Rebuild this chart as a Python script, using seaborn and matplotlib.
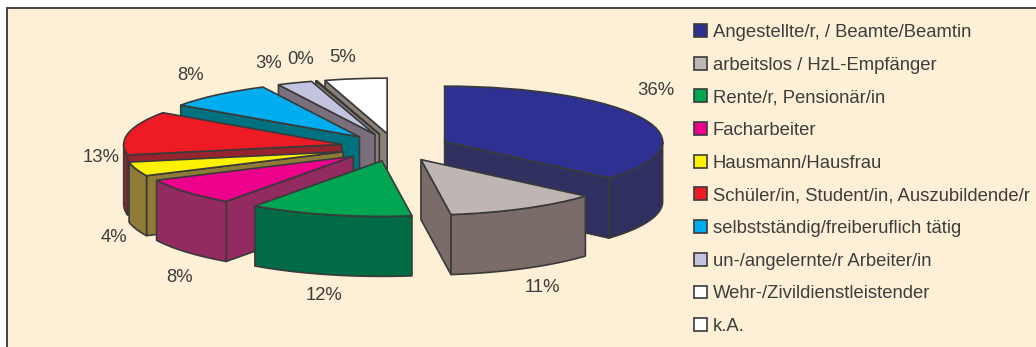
import numpy as np
import matplotlib
matplotlib.use("Agg")
import matplotlib.pyplot as plt
from matplotlib.patches import Polygon, Rectangle
import seaborn as sns

# Occupation shares in percent; labels show them rounded to whole numbers
categories = [
    "Angestellte/r, / Beamte/Beamtin",
    "arbeitslos / HzL-Empfänger",
    "Rente/r, Pensionär/in",
    "Facharbeiter",
    "Hausmann/Hausfrau",
    "Schüler/in, Student/in, Auszubildende/r",
    "selbstständig/freiberuflich tätig",
    "un-/angelernte/r Arbeiter/in",
    "Wehr-/Zivildienstleistender",
    "k.A.",
]
shares = [36.4, 11.4, 12.1, 8.0, 4.1, 12.7, 8.0, 2.6, 0.1, 4.6]
top_colors = ["#2e3192", "#bfb5b3", "#00a651", "#ec008c", "#fff200",
              "#ed1c24", "#00aeef", "#c4c3e0", "#ffffff", "#ffffff"]
side_colors = ["#2f305f", "#7a6c68", "#006b45", "#932a60", "#8f7b38",
               "#96232e", "#00717f", "#7a6f7c", "#8c8078", "#8c8078"]

# Label anchor points in figure pixels (origin top left)
label_px = [(656, 91), (542, 287), (324, 295), (180, 278), (114, 237),
            (101, 158), (191, 76), (269, 64), (301, 60), (343, 58)]

W, H = 1036, 347
PIE_X, PIE_Y = 395.0, 147.4     # pie centre in pixels
UNIT_X, UNIT_Y = 218.0, 55.5    # pixels per unit radius, flattened vertically
DEPTH = 60.0 / UNIT_Y           # slab thickness in y units
EXPLODE = 0.25
EDGE = "#3a3a3a"
TEXT = "#3d3d3d"
PANEL = "#fdf0d6"

sns.set_theme(style="white")
plt.rcParams["font.family"] = ["Liberation Sans", "DejaVu Sans"]

fig = plt.figure(figsize=(W / 100, H / 100), dpi=100, facecolor="white")
ax = fig.add_axes([0, 0, 1, 1])

wedges, _ = ax.pie(
    shares,
    colors=sns.color_palette(top_colors),
    explode=[EXPLODE] * len(shares),
    startangle=90,
    counterclock=False,
    wedgeprops={"edgecolor": EDGE, "linewidth": 1.2},
)
ax.set_aspect("auto")
ax.set_xlim(-PIE_X / UNIT_X, (W - PIE_X) / UNIT_X)
ax.set_ylim((PIE_Y - H) / UNIT_Y, PIE_Y / UNIT_Y)
ax.set_axis_off()


def to_data(px, py):
    return (px - PIE_X) / UNIT_X, (PIE_Y - py) / UNIT_Y


# Panel with only its top and left border drawn
x0, y1 = to_data(7, 8.5)
x1, y0 = to_data(W + 5, H + 5)
ax.add_patch(Rectangle((x0, y0), x1 - x0, y1 - y0, facecolor=PANEL,
                       edgecolor="none", zorder=0))
ax.plot([x0, x0, x1], [y0, y1, y1], color="#444444", lw=1.4, zorder=1,
        solid_joinstyle="miter", scalex=False, scaley=False)


def side_face(points, color, z):
    pts = np.asarray(points)
    drop = pts - [0, DEPTH]
    ax.add_patch(Polygon(np.vstack([pts, drop[::-1]]), closed=True,
                         facecolor=color, edgecolor=EDGE, linewidth=1.2,
                         joinstyle="round", zorder=z))


# Slabs are stacked from back to front by the height of their tip
order = sorted(range(len(wedges)), key=lambda i: -wedges[i].center[1])
for rank, i in enumerate(order):
    wedge = wedges[i]
    cx, cy = wedge.center
    t1, t2 = wedge.theta1, wedge.theta2
    z = 2 + rank
    tip = (cx, cy)

    for t, normal in ((t1, t1 - 90), (t2, t2 + 90)):
        if np.sin(np.radians(normal)) < -1e-6:
            r = np.radians(t)
            side_face([tip, (cx + np.cos(r), cy + np.sin(r))], side_colors[i], z)

    lo, hi = max(t1, -180.0), min(t2, 0.0)
    if hi > lo:
        arc = np.radians(np.linspace(lo, hi, 60))
        side_face(np.column_stack([cx + np.cos(arc), cy + np.sin(arc)]),
                  side_colors[i], z)

    wedge.set_zorder(z + 0.5)

for share, (px, py) in zip(shares, label_px):
    x, y = to_data(px, py)
    ax.text(x, y, f"{share:.0f}%", ha="center", va="center", fontsize=13.3,
            color=TEXT, zorder=30)

legend = ax.legend(
    wedges, categories,
    loc="upper left",
    bbox_to_anchor=(692 / W, 1 - 22 / H),
    bbox_transform=fig.transFigure,
    frameon=False,
    fontsize=13.3,
    labelcolor=TEXT,
    handlelength=0.7,
    handleheight=0.7,
    handletextpad=0.32,
    labelspacing=0.85,
    borderpad=0.1,
    borderaxespad=0,
)
legend.set_zorder(30)

fig.savefig("out.png", dpi=100, facecolor="white")
